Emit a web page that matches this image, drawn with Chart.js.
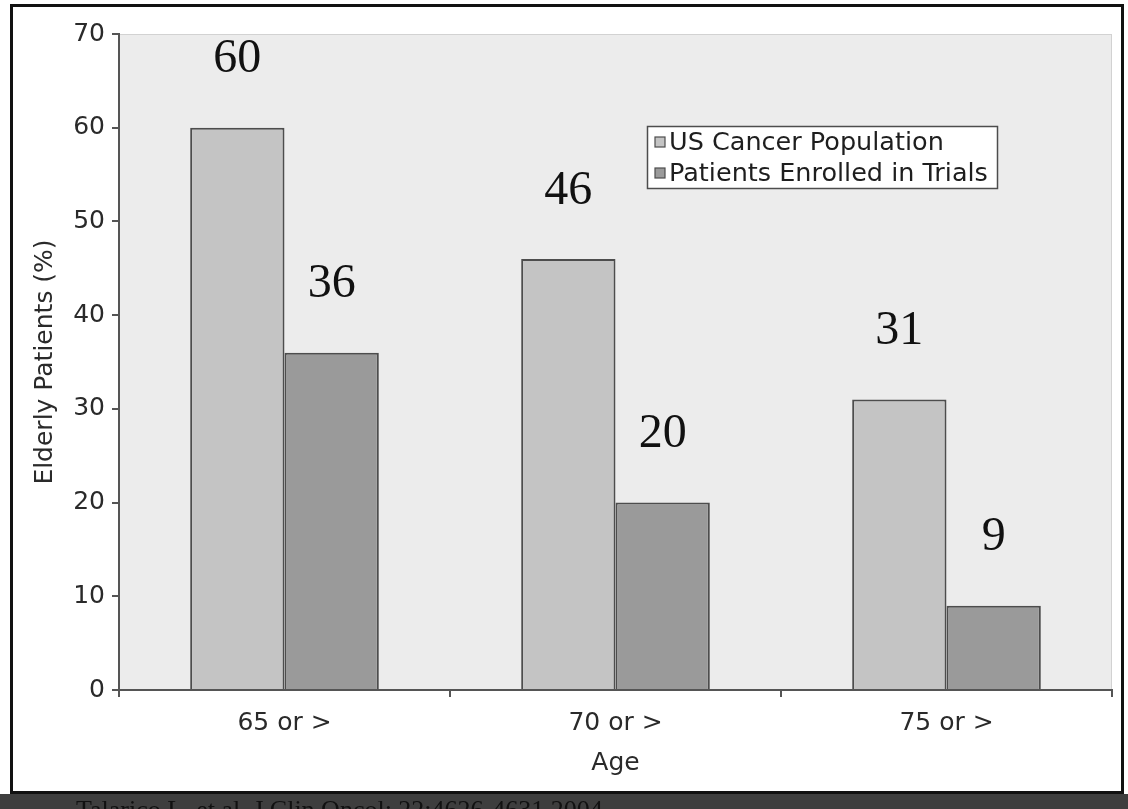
<!DOCTYPE html>
<html>
<head>
<meta charset="utf-8">
<script src="https://cdn.jsdelivr.net/npm/chart.js@4"></script>
<style>
  html, body { margin: 0; padding: 0; background: #ffffff; }
  #wrap { width: 1128px; height: 809px; position: relative; }
  canvas { display: block; }
</style>
</head>
<body>
<div id="wrap"><canvas id="chart" width="1128" height="809"></canvas></div>
<script>
// Age groups on the x axis
const ageGroups = ['65 or >', '70 or >', '75 or >'];
// Share of elderly patients (%)
const usCancerPopulation = [60, 46, 31];
const enrolledInTrials = [36, 20, 9];
const seriesNames = ['US Cancer Population', 'Patients Enrolled in Trials'];
// Y axis range and step
const yMin = 0, yMax = 70, yStep = 10;
const axisTitleX = 'Age';
const axisTitleY = 'Elderly Patients (%)';
const citation = 'Talarico L, et al. J Clin Oncol: 22:4626-4631 2004';

const SANS = '"DejaVu Sans", "Liberation Sans", sans-serif';
const SERIF = '"Liberation Serif", "DejaVu Serif", serif';
const fills = ['#c4c4c4', '#9a9a9a'];

// Page frame, bottom citation band and plot background
const framePlugin = {
  id: 'frame',
  beforeDraw(chart) {
    const { ctx, chartArea: a, width, height } = chart;
    ctx.save();
    ctx.fillStyle = '#ffffff';
    ctx.fillRect(0, 0, width, height);
    // dark band below the frame
    ctx.fillStyle = '#3e3e3e';
    ctx.fillRect(0, 794, width, height - 794);
    ctx.fillStyle = '#111111';
    ctx.font = '26px ' + SERIF;
    ctx.textBaseline = 'top';
    ctx.fillText(citation, 76, 798);
    // frame
    ctx.strokeStyle = '#111111';
    ctx.lineWidth = 3;
    ctx.strokeRect(11.5, 5.5, 1111, 787);
    // plot background
    ctx.fillStyle = '#ececec';
    ctx.fillRect(a.left, a.top, a.right - a.left, a.bottom - a.top);
    ctx.strokeStyle = '#d2d2d2';
    ctx.lineWidth = 1;
    ctx.strokeRect(a.left + 0.5, a.top + 0.5, a.right - a.left - 1, a.bottom - a.top - 1);
    ctx.restore();
  }
};

// Value labels above every bar
const valueLabels = {
  id: 'valueLabels',
  afterDatasetsDraw(chart) {
    const { ctx } = chart;
    ctx.save();
    ctx.font = '48px ' + SERIF;
    ctx.fillStyle = '#111111';
    ctx.textAlign = 'center';
    ctx.textBaseline = 'middle';
    chart.data.datasets.forEach((ds, i) => {
      chart.getDatasetMeta(i).data.forEach((bar, j) => {
        ctx.fillText(String(ds.data[j]), bar.x, bar.y - 68);
      });
    });
    ctx.restore();
  }
};

// Boxed legend inside the plot area
const boxLegend = {
  id: 'boxLegend',
  afterDraw(chart) {
    const { ctx } = chart;
    const x = 647, y = 126, w = 350, h = 62;
    ctx.save();
    ctx.fillStyle = '#ffffff';
    ctx.fillRect(x, y, w, h);
    ctx.strokeStyle = '#4d4d4d';
    ctx.lineWidth = 1.5;
    ctx.strokeRect(x + 0.5, y + 0.5, w, h);
    ctx.font = '25.5px ' + SANS;
    ctx.textBaseline = 'middle';
    chart.data.datasets.forEach((ds, i) => {
      const cy = y + 16 + i * 31;
      ctx.fillStyle = ds.backgroundColor;
      ctx.fillRect(x + 8, cy - 5, 10, 10);
      ctx.strokeStyle = '#4d4d4d';
      ctx.lineWidth = 1.2;
      ctx.strokeRect(x + 8, cy - 5, 10, 10);
      ctx.fillStyle = '#1e1e1e';
      ctx.fillText(ds.label, x + 22, cy + 1);
    });
    ctx.restore();
  }
};

new Chart(document.getElementById('chart'), {
  type: 'bar',
  data: {
    labels: ageGroups,
    datasets: [
      { label: seriesNames[0], data: usCancerPopulation, backgroundColor: fills[0],
        borderColor: '#4d4d4d', borderWidth: 2, borderSkipped: 'bottom' },
      { label: seriesNames[1], data: enrolledInTrials, backgroundColor: fills[1],
        borderColor: '#4d4d4d', borderWidth: 2, borderSkipped: 'bottom' }
    ]
  },
  options: {
    responsive: false,
    animation: false,
    devicePixelRatio: 1,
    layout: { padding: { top: 34, right: 16, left: 0, bottom: 0 } },
    datasets: { bar: { categoryPercentage: 0.57, barPercentage: 1.0 } },
    plugins: { legend: { display: false }, tooltip: { enabled: false } },
    scales: {
      x: {
        grid: { offset: true, drawOnChartArea: false, drawTicks: true, tickLength: 7,
                color: '#555555', lineWidth: 2 },
        border: { color: '#555555', width: 2 },
        ticks: { font: { family: SANS, size: 25 }, color: '#2a2a2a', padding: 11 },
        title: { display: true, text: axisTitleX, font: { family: SANS, size: 25 },
                 color: '#2a2a2a', padding: { top: 0, bottom: 31 } },
        afterFit(scale) { scale.height = 119; }
      },
      y: {
        min: yMin, max: yMax,
        ticks: { stepSize: yStep, font: { family: SANS, size: 25 }, color: '#2a2a2a', padding: 7 },
        grid: { drawOnChartArea: false, drawTicks: true, tickLength: 7,
                color: '#555555', lineWidth: 2 },
        border: { color: '#555555', width: 2 },
        title: { display: true, text: axisTitleY, font: { family: SANS, size: 25 },
                 color: '#2a2a2a', padding: { top: 30, bottom: 0 } },
        afterFit(scale) { scale.width = 119; }
      }
    }
  },
  plugins: [framePlugin, valueLabels, boxLegend]
});
</script>
</body>
</html>
